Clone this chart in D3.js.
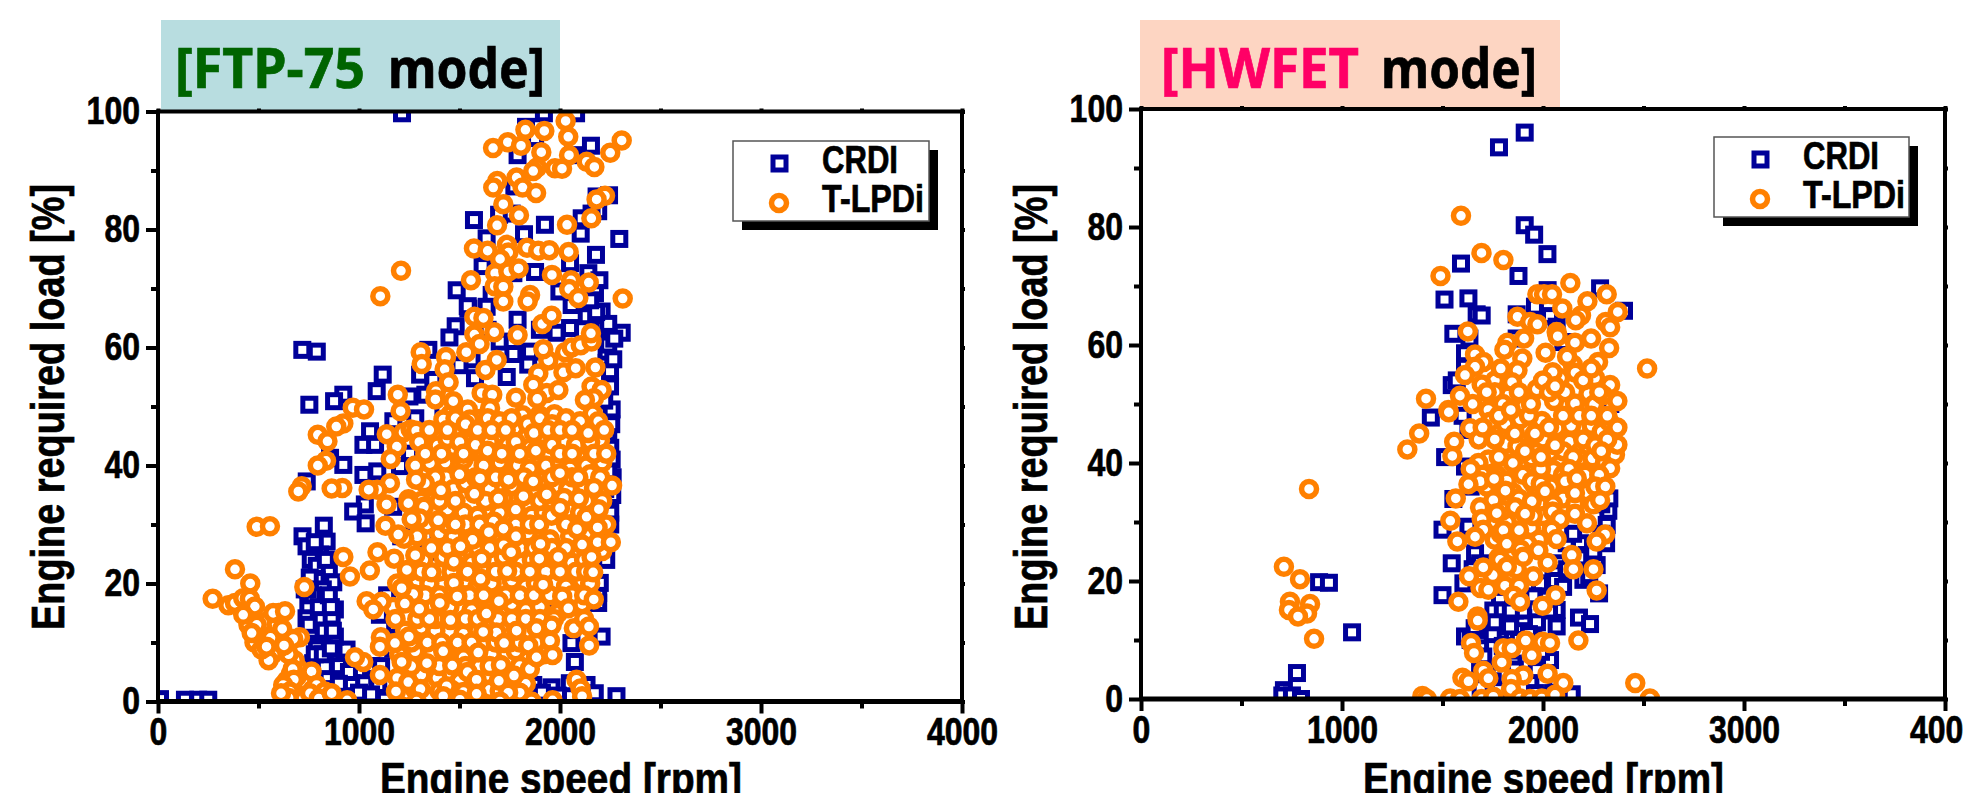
<!DOCTYPE html>
<html>
<head>
<meta charset="utf-8">
<script src="https://cdn.jsdelivr.net/npm/d3@7"></script>
<style>
    html, body { margin: 0; padding: 0; background: #fff; overflow: hidden; }
    text { font-family: "Liberation Sans", Arial, sans-serif; font-weight: bold; fill: #000; stroke: #000; stroke-width: 0.7px; }
</style>
</head>
<body>
<div id="chart"></div>
<script>
const x_ticks = [0, 1000, 2000, 3000, 4000];
const x_minor = [500, 1500, 2500, 3500];
const y_ticks = [0, 20, 40, 60, 80, 100];
const y_minor = [10, 30, 50, 70, 90];
const legend_labels = ['CRDI', 'T-LPDi'];

// [rpm, load %]
const ftp_crdi = [
    [10,0.4],[134,0.3],[200,0.3],[250,0.3],[1214,99.7],[1920,99.7],[2080,99.7],[1831,97.4],[1876,95.5],[2154,94.2],[1789,92.6],[2066,92.6],
    [1572,81.6],[1925,80.8],[2190,83.1],[2244,85.8],[2182,85.6],[1773,87.3],[1697,82.5],[1760,82.7],[2108,81.9],[2157,82.7],[1821,79.2],[1635,78.5],
    [2103,79.3],[2295,78.4],[2179,75.7],[1615,73.8],[1876,72.8],[2050,74.3],[1768,72.6],[2141,72.6],[2196,71.4],[1486,69.7],[1544,66.6],[1997,69.5],
    [2174,69.2],[1660,68.9],[1635,66.9],[2058,67.2],[1541,67],[1481,63.6],[1450,61.7],[1789,64.7],[2207,66.1],[2307,62.5],[2050,63.3],[2215,63.3],
    [2133,65.3],[1983,62.5],[718,59.6],[790,59.3],[1345,59.6],[1118,55.4],[1088,52.6],[922,52],[876,50.9],[753,50.3],[1304,55.4],[1768,58.9],[1851,59.3],
    [1842,57.1],[1735,55],[1577,54.8],[1370,54.5],[1251,51.7],[1171,47.5],[1055,45.8],[1022,43.5],[1080,43.5],[1254,42],[922,40.1],[856,41.3],[1022,38.4],
    [1091,39],[1204,39.9],[740,37.3],[2232,57.4],[2249,56],[2249,53.4],[2257,49.5],[2240,45.5],[2232,59.3],[2257,41],[2262,38],[2240,60.5],[2270,61.5],
    [1029,33.4],[971,32.2],[1033,30.2],[825,29.8],[839,27.1],[719,28],[739,26.3],[806,24.9],[850,22.4],[789,20.6],[872,20.2],[825,17.4],[748,16.1],
    [880,15.6],[739,14.1],[809,14.1],[864,14.4],[772,11.3],[839,10.5],[938,8.8],[864,7.1],[772,6.5],[963,3.1],[1026,3.1],[1096,2.8],[844,4.3],[1331,28],
    [1344,25.4],[1104,14.7],[1925,15.8],[2057,9.9],[2207,11],[2074,6.7],[1958,2.4],[1867,2.8],[2132,2.8],[2049,3.1],[2173,1.4],[2281,0.9],[2190,18.4],
    [2223,29.7],[2198,20.1],[1129,0.3],[2215,27.4],[2190,16.7],[760,24],[790,23],[820,19],[770,18],[800,16],[850,18],[845,12],[760,12],[730,19],[790,9],
    [880,11],[900,6],[950,5],[830,6],[1000,1.5],[1060,1.2],[1910,1.5],[1990,1],[1180,13],[1170,9],[1210,28],[1170,33],[2230,24],[2250,32],[2260,35],[2230,47],[2250,43],
    // column near 800 rpm and the right edge
    [755,21],[835,24],[780,27],[745,19],[860,16],[750,13],[825,12],[870,12],[780,8],[820,8],[860,9],[760,4],[900,3],[1060,6],[1110,6],[1140,18],
    [2225,36],[2240,39],[2250,30],[2255,47],[2220,51],[2265,58],[2240,64],[2180,66],[2150,68],[1900,63],[1700,61],[1640,63],[1560,58],[1500,57],[1420,50],[1330,52],[1280,48]
];

const ftp_tlpdi = [
    [1209,73],[1106,68.7],[1667,93.8],[1740,94.8],[1806,94.2],[1828,96.9],[1922,96.7],[2028,98.4],[2041,95.7],[2307,95.1],[2250,93],[1907,93.1],[2045,92.6],
    [2133,91.5],[2171,90.6],[1975,90.4],[2010,90.3],[1886,90.5],[1867,89.9],[1784,88.8],[1688,88.2],[1668,87.1],[1814,87.1],[1881,86.2],[2224,85.7],[2182,85.1],
    [1718,84.3],[1796,82.4],[2156,81.9],[1687,80.7],[2035,80.8],[1572,76.8],[1640,76.4],[1736,77.4],[1743,76.1],[1836,76.9],[1892,76.4],[1947,76.5],[2043,76.2],
    [1702,75],[1677,72.6],[1743,72.9],[1794,73.4],[1960,72.3],[2055,71.4],[2143,71],[1557,71.4],[1675,70.4],[1718,70.3],[2046,69.9],[1851,68.9],[2091,68.4],
    [2312,68.3],[1718,67.8],[1839,67.8],[1574,65.2],[1619,65],[1673,62.6],[1574,62.2],[1600,60.6],[1534,59.2],[1789,62.1],[1912,64],[1958,65.4],[1685,57.9],
    [1629,56.2],[1307,59.2],[1312,57.2],[1433,58.4],[1426,56.3],[1446,54.1],[1383,52.6],[1380,51.2],[1193,52],[1207,49.2],[969,49.8],[1025,49.5],[922,47.1],
    [887,46.6],[795,45.2],[843,44.1],[836,40.8],[795,40],[1138,45.3],[1188,43.2],[1158,41.1],[1221,45.6],[1257,46.1],[1284,45.9],[1455,48.7],[1469,50.9],
    [1541,49.5],[1600,47.9],[1610,52.3],[1663,52],[1652,49.7],[1552,47.8],[1420,47.8],[1503,45.5],[1549,44],[1693,45.2],[1391,43.4],[1469,43],[1353,40.4],
    [1468,40.2],[1612,42.4],[1668,41.1],[1566,39.9],[1751,40],[1942,57.8],[1917,59.7],[2025,59.2],[2058,60],[2103,60.4],[2157,61],[2154,62.4],[1892,55.6],
    [2017,55.8],[2078,56.5],[2176,56.6],[1867,53.7],[1934,52.3],[1992,52.8],[1781,51.5],[1887,51.3],[1814,48.5],[1897,48.5],[1972,48.7],[2157,53.4],[2207,52.8],
    [2169,51.4],[2124,51.1],[2163,48.8],[2083,46.4],[1912,45.2],[1836,45],[1975,44.4],[2199,44.3],[2124,43.6],[2091,41.5],[1942,41.5],[1834,41.8],[2169,40.2],
    // dense block, row by row
    [1480,48],[1530,47],[1640,48],[1700,47.5],[1760,48],[1840,47],[1900,48],[1960,47],[2030,48],[2100,47.5],[2190,47.5],
    [1300,44],[1440,44.5],[1500,44],[1580,43.5],[1650,44],[1740,43.5],[1780,44],[1850,43],[1960,43.5],[2030,44],[2080,43.5],[2150,44],
    [1280,40],[1430,40.5],[1520,41],[1620,40],[1700,40.5],[1790,40],[1850,39.5],[1930,40],[2000,40.5],[2050,39.5],[2130,40],[2210,40.5],
    [1340,36.5],[1470,36],[1530,37],[1650,36],[1760,36.5],[1870,35.5],[1980,36.5],[2040,36],[2120,36.5],[1370,32],[1440,32.5],[1520,32],[1590,31.5],[1700,32],
    [1780,32.5],[1860,31.5],[1920,32],[2040,32.5],[2100,32],[2160,31.5],[1290,28],[1400,28.5],[1470,28],[1540,27.5],[1610,28],[1700,28],[1840,28.5],[1950,27.5],
    [2050,28],[2140,28.5],[1320,24],[1420,24.5],[1500,24],[1560,23.5],[1670,24],[1720,24.5],[1810,23.5],[1860,24],[1980,24.5],[2060,23.5],[2120,24],
    [1190,20],[1290,20.5],[1350,20],[1530,20.5],[1590,19.5],[1660,20],[1760,20.5],[1830,19.5],[1880,20],[2030,19.5],[2110,20.5],[2150,20],
    [1170,16],[1350,16.5],[1450,16],[1560,15.5],[1650,16],[1760,16.5],[1830,15.5],[1900,16],[1990,15],[2110,16.5],[1230,12],[1310,12.5],[1380,12],[1520,11.5],
    [1590,12],[1780,12.5],[1840,11.5],[1900,12],[1200,8],[1280,8.5],[1360,8],[1440,8.5],[1520,7.5],[1660,8],[1780,8.5],[1880,7.5],[1920,8],
    [1190,4],[1310,4.5],[1390,4],[1500,3.5],[1640,4.5],[1720,3.5],[1830,3],[1220,0.8],[1350,0.5],[1600,0.8],[1770,0.5],[1380,14],[1500,18],[1620,10],[1700,6],
    // second pass through the dense block
    [1350,46],[1440,46],[1590,46],[1660,46],[1730,46],[1870,45.5],[1940,46],[2000,46],[2060,46],[2140,45.5],[2220,46],
    [1330,42],[1410,42],[1520,42],[1640,42.5],[1710,42],[1800,42],[1880,42.5],[2000,42],[2060,42],[2170,42],[2230,42],
    [1380,38],[1500,38.5],[1580,38],[1680,38],[1740,38],[1820,38],[1900,37.5],[1960,38],[2060,38],[2150,38.5],[2200,38],
    [1310,34],[1400,34],[1480,34],[1630,34],[1720,34.5],[1900,34],[1960,34],[2020,34.5],[2130,34],[2210,34],
    [1340,30],[1440,30],[1530,30],[1600,30],[1670,30.5],[1780,30],[1850,30],[2030,30],[2100,30],[2230,30],
    [1360,26],[1440,26],[1590,26],[1650,26],[1720,26.5],[1800,26],[1870,26],[1960,26],[2030,26],[2210,25.5],
    [1250,22],[1310,22],[1400,22],[1460,22],[1540,22],[1620,22],[1680,22],[1780,22],[1850,22],[1930,22],[2000,22],[2080,22],[2130,22],
    [1240,18],[1330,18],[1400,18],[1550,18],[1620,18],[1730,18],[1800,18],[1870,18],[1950,18],[2060,18],[2120,18],
    [1290,14],[1350,14],[1530,14],[1590,14],[1690,14],[1760,14],[1830,14],[1900,14],[1970,14],
    [1260,10],[1340,10],[1410,10],[1490,10],[1560,10],[1680,10],[1750,10],[1800,10],[1880,10],
    [1260,6],[1400,6],[1530,6],[1600,6],[1650,6],[1800,6],[1850,5.5],[1240,1.5],[1280,2],[1400,1.8],[1460,2],[1520,1.6],[1650,2],[1700,1.8],[1800,1.5],[1540,5],
    // low speed cluster
    [640,3.5],[660,2.5],[680,1.5],[700,2.8],[720,1.8],[740,3],[770,2],[810,1],[690,4.2],[650,1],[630,0.8],[700,0.8],[760,0.6],[840,0.5],[870,0.4],[660,4.6],[700,5.5],
    [680,7],[650,8],[600,9],[570,8],[520,11],[510,13],[480,10],[450,13],[540,13.5],[590,13],[600,15],[550,7],
    // traced
    [1154,37],[1091,35.9],[1048,35.9],[917,36.2],[864,36.1],[715,36.5],[698,35.6],[1408,35.8],[2259,36.6],[2169,36.2],[1934,35.1],[1818,34.8],[1693,34.4],[1574,35.2],
    [2094,34.4],[1246,34.3],[2000,38.7],[2091,38],[1867,37.3],[1743,37.6],[1602,37.8],[1328,37],[1284,37.6],[491,29.6],[557,29.7],[383,22.4],[459,20],[272,17.4],
    [350,16.3],[383,16.7],[424,17.5],[457,17.4],[482,16.1],[424,14.7],[573,15],[632,15.3],[491,13],[618,12.3],[466,11.6],[560,10.8],[706,10.9],[673,10.6],[627,9.5],
    [515,8.8],[540,9.3],[670,5.5],[764,5.1],[676,3.7],[631,2],[623,2.8],[656,1.7],[723,0.4],[789,2.8],[830,1.7],[756,1.4],[650,0.6],[800,0.5],[864,1.4],[612,1.4],
    [728,19.4],[922,24.5],[955,21.2],[1054,22.2],[1132,29.8],[1225,27.6],[1195,28.3],[1092,25.3],[1175,24.2],[1280,24.8],[1238,22.3],[1361,21.9],[1137,33.4],
    [1245,33.6],[1323,33],[1394,30.7],[1303,31],[1262,30.9],[1480,30],[1565,27.4],[1505,26.3],[1646,28.7],[1719,29.3],[1781,28],[1903,26.7],[1897,30],[1958,31.5],
    [2000,32.8],[2132,31.3],[2193,32.6],[2187,29.5],[2085,29.2],[2110,26.6],[2187,27],[2253,27],[2157,24.5],[1991,24.5],[1897,24.2],[1757,25.3],[1610,24.2],
    [1472,23.7],[1737,22.1],[1605,20.8],[2165,21.9],[1916,19.8],[2011,17.8],[2168,17.3],[2041,15.8],[1696,17],[1472,20.1],[1489,17.8],[1402,16.7],[1270,18.2],
    [1212,19.2],[1112,16.9],[1038,17],[1071,15.6],[1300,15.7],[1228,16.6],[1182,14],[1634,14.9],[1455,13.8],[1883,12.4],[1784,12],[1684,11.7],[1618,11.8],[1958,12.9],
    [2069,12.4],[2120,14],[2144,12.7],[2145,9.5],[1950,10.3],[1842,9.5],[1722,9.9],[1593,8.3],[1419,8.5],[1248,11],[1179,9.9],[1109,10.9],[1104,9.3],[1021,6.7],
    [980,7.5],[1104,4.5],[1212,6.7],[1338,6.5],[1464,6.1],[1706,6.2],[1883,7.5],[1963,7.9],[1771,4.4],[1696,3.5],[1585,3.7],[1436,2.6],[1245,3.3],[1184,1.7],[1306,2.1],
    [1585,1.3],[1742,1.5],[1858,0],[1701,0],[1286,0],[941,0.2],[1963,0.2],[2082,3.7],[2102,2.2],[2110,0.9],[1502,0.3],[1419,0.9]
];

const hw_crdi = [
    [711,1.5],[776,4.4],[886,19.8],[935,19.7],[1050,11.3],[703,0.6],[751,0.6],[796,0],[1781,93.5],[1909,96],[1909,80.3],[1956,78.7],[2022,75.4],[1592,73.8],[1878,71.7],
    [1510,67.7],[1629,67.9],[1670,65.2],[1695,65],[1554,61.9],[1634,61.1],[2023,69.3],[2284,69.6],[2403,65.8],[1869,65.2],[1960,66.5],[2035,64.9],[1869,61.1],[1612,58.6],
    [1612,56.3],[1546,53.2],[1571,54],[2068,63.1],[2101,60.5],[1442,47.7],[1629,45.6],[1513,41],[1612,39.4],[1554,33.9],[2325,31.9],[2317,29.5],[1500,28.7],[1629,29.2],
    [2314,26.4],[1546,23],[1662,24.7],[1687,23],[2267,22.7],[2201,20.2],[1604,19.6],[1500,17.6],[2279,17.9],[1786,16.8],[2068,15.1],[2179,13.8],[2234,12.7],[2068,12.3],
    [1902,13.7],[1786,11.4],[1612,10.6],[1728,11.7],[2035,6.6],[1952,10],[1853,6],[1687,5.5],[2002,2.7],[2143,0.8],[1786,14.5],[1820,13.4],[1753,15],[1836,12.3],
    [1687,8.6],[1703,7.2],[1969,4.9],[1860,5],[2118,26.4],[2184,26.4],[2217,24.4],[2076,23],[2052,21.3],[1985,19.6],[1952,17.4],[2290,33],[2330,34],[2340,46],[2335,50],
    [1640,36],[1600,48],[1650,22],[1700,20],[1860,15],[1900,15],[1750,11],[1800,9],[1880,10],[1990,8],[2030,15],[2060,20],[2120,22],
    [2150,28],[2180,24],[2250,25],[2290,28],[2230,21],[2100,19],[2020,17],[1970,13],[1930,11],[1800,15],[1840,15],[1760,13],[1660,12],[1640,10],[1720,5],[1750,3],[1690,2],[1780,1.5],[2050,1],[1960,1]
];

const hw_tlpdi = [
    [836,35.6],[711,22.4],[791,20.3],[741,16.5],[841,16.1],[736,15.1],[826,14.5],[781,14],[861,10.2],[1592,81.9],[1694,75.6],[1803,74.4],[1490,71.7],[2136,70.5],[1972,68.6],
    [2005,68.6],[2045,68.6],[2317,68.6],[2221,67.4],[2096,66.2],[2189,65],[2163,64.2],[2372,65.6],[2312,63.9],[2334,63],[1873,64.8],[1936,63.9],[1972,63.5],[1626,62.3],
    [2068,62.2],[2073,61.5],[1906,61.1],[1823,60.4],[1808,59.2],[2159,60.4],[2239,61.1],[2329,59.5],[2518,56],[1662,58.4],[1704,57.1],[1662,56.3],[1612,54.9],[1897,57.7],
    [2013,58.7],[2274,57.1],[2148,56.7],[1873,55.7],[1761,54],[1695,53.3],[1587,51.4],[1846,53.7],[1969,52.5],[2085,54.4],[2161,55.3],[2259,54.4],[2334,53.2],[1825,51.4],
    [1418,50.9],[1529,49],[2226,51.7],[2055,50.5],[2159,50.1],[2254,49.9],[2370,50.5],[1906,49.6],[1728,49],[2048,55.4],[2300,51.5],[1531,48.6],[1384,45],[1325,42.3],
    [1558,43.6],[1549,41.2],[1637,45.9],[1737,47],[1813,46.6],[1886,47.4],[1994,47.1],[2068,45.9],[2140,46.3],[2242,46.3],[2292,45.3],[1952,44.3],[1811,43.2],[2131,43.6],
    [1873,42.8],[1728,40.6],[1679,40],[1944,40.8],[2035,41.7],[2184,40.8],[2246,40.8],[2309,40.1],[2358,41.4],[2334,39.1],[2370,43.1],[1813,39.2],[2052,38.8],
    // fill of the cluster
    [1680,44],[1760,44],[1860,45],[1930,48],[2000,44],[2100,42],[2200,44],[2260,43],[2320,44],[2330,47],[1700,38],[1780,41],[1900,38],[1990,39],[2100,38],[2210,38],[2280,38],
    [1780,35],[1850,35],[1980,33],[2100,34],[2220,35],[1720,32],[1820,30],[1880,34],[2000,31],[1760,27],[1850,25],[1940,29],[1780,24],
    [1760,52],[1800,50],[1880,52],[1940,50],[2000,54],[2030,52],[2110,52],[2200,54],[2280,52],[2240,56],[2120,58],[2060,53],[1790,56],[1720,52],[1650,50],[1700,46],[1780,48],
    [1840,49],[1960,45],[2030,46],[2100,48],[2180,48],[2240,48],[2320,48],[2370,46],[2290,42],[2150,41],[2060,43],[1990,41],[1910,42],[1850,40],[1770,38],[1640,39],[1720,36],
    [1820,37],[1960,36],[2040,36],[2130,39],[2260,36],[2310,36],[2160,33],[2250,33],[2050,33],[1950,31],[1800,32],[1740,30],[1790,28],[1860,28],[1980,27],[1830,21],[1870,22],[1750,21],
    // traced
    [1687,36.9],[1629,36.4],[1757,37.3],[1944,36.9],[1989,36.5],[2110,36.9],[2168,37.4],[1813,35.3],[2010,35.2],[2159,34.9],[1566,34],[1753,33.7],[1687,32.5],[2284,33.7],
    [1944,33.5],[2048,31.8],[1861,32.5],[1770,31.5],[1911,31.4],[2085,30.5],[2159,31.4],[1695,30.5],[1539,30.2],[2219,29.8],[1803,28.6],[1881,28.6],[1703,28.7],[2043,28.7],
    [2309,27.9],[2267,26.7],[1574,26.7],[1662,27.5],[2068,27.1],[1820,26.3],[1922,26.3],[1977,25.2],[1889,25.3],[2143,24.4],[2023,23.1],[1786,23.6],[1902,24.1],[1820,22.4],
    [1703,22.3],[2151,22],[2251,22],[1952,20.8],[1632,20.8],[1811,19.2],[1881,19.2],[1689,18.8],[1728,18.5],[2267,18.4],[2063,17.6],[1853,17.5],[1886,16.5],[1579,16.5],
    [1998,15.8],[1674,14],[1675,13.3],[2176,9.9],[1997,9.7],[2035,9.5],[1914,9.9],[1642,9.5],[1657,7.8],[1803,8.6],[1844,8.6],[1944,7.4],[1795,6.2],[1703,4.8],[2023,4.3],
    [1902,4],[1599,3.6],[1629,3],[1728,3.5],[1844,3.4],[2101,2.7],[2459,2.7],[1841,1.7],[2532,0.1],[1400,0.5],[1422,0],[1538,0.1],[1587,0],[1695,0],[1753,0.4],[1886,0.1],
    [1936,0],[1994,0.1],[2060,0.7]
];
//--------------------------------------------------------------------
const svg = d3.select('#chart')
    .append('svg')
    .attr('width', 1963)
    .attr('height', 793);

const panels = [{
    id: 'ftp', left: 158, right: 962, top: 111.5, bottom: 701.5,
    crdi: ftp_crdi, tlpdi: ftp_tlpdi,
    box: [161, 20, 399, 91], box_color: '#b8dde0',
    head: '[FTP-75', head_color: '#006400', head_x: [175, 365], mode_x: [388, 545], head_y: 88,
    legend: [733, 141, 196, 80], title_x: 64, x_title: [380, 742]
}, {
    id: 'hw', left: 1141, right: 1945, top: 109, bottom: 699,
    crdi: hw_crdi, tlpdi: hw_tlpdi,
    box: [1140, 20, 420, 88], box_color: '#fdd5c2',
    head: '[HWFET', head_color: '#ff0066', head_x: [1161, 1359], mode_x: [1381, 1537], head_y: 88,
    legend: [1714, 137, 195, 80], title_x: 1047, x_title: [1363, 1724]
}];

panels.forEach(draw_panel);

function draw_panel(p) {
    const x_scale = d3.scaleLinear().domain([0, 4000]).range([p.left, p.right]);
    const y_scale = d3.scaleLinear().domain([0, 100]).range([p.bottom, p.top]);
    const g = svg.append('g');

    // mode header
    g.append('rect')
        .attr('x', p.box[0]).attr('y', p.box[1])
        .attr('width', p.box[2]).attr('height', p.box[3])
        .attr('fill', p.box_color);

    [[p.head, p.head_color, p.head_x], ['mode]', '#000', p.mode_x]].forEach(h => {
        g.append('text')
            .text(h[0])
            .attr('x', h[2][0])
            .attr('y', p.head_y)
            .attr('textLength', h[2][1] - h[2][0])
            .attr('lengthAdjust', 'spacingAndGlyphs')
            .style('font-family', '"Noto Sans", sans-serif')
            .style('font-size', '55px')
            .style('fill', h[1])
            .style('stroke', h[1]);
    });

    // points
    svg.append('clipPath')
        .attr('id', 'clip-' + p.id)
        .append('rect')
        .attr('x', p.left).attr('y', p.top)
        .attr('width', p.right - p.left).attr('height', p.bottom - p.top);

    const marks = g.append('g').attr('clip-path', 'url(#clip-' + p.id + ')');

    marks.selectAll('rect')
        .data(p.crdi)
        .enter()
        .append('rect')
        .attr('x', d => x_scale(d[0]) - 6.5)
        .attr('y', d => y_scale(d[1]) - 6.5)
        .attr('width', 13)
        .attr('height', 13)
        .attr('fill', '#fff')
        .attr('stroke', '#000099')
        .attr('stroke-width', 5);

    marks.selectAll('circle')
        .data(p.tlpdi)
        .enter()
        .append('circle')
        .attr('cx', d => x_scale(d[0]))
        .attr('cy', d => y_scale(d[1]))
        .attr('r', 7.5)
        .attr('fill', '#fff')
        .attr('stroke', '#ff8000')
        .attr('stroke-width', 5.5);

    // frame
    g.append('rect')
        .attr('x', p.left).attr('y', p.top)
        .attr('width', p.right - p.left).attr('height', p.bottom - p.top)
        .attr('fill', 'none')
        .attr('stroke', '#000')
        .attr('stroke-width', 4);

    g.append('line')
        .attr('x1', p.left).attr('x2', p.right)
        .attr('y1', p.bottom).attr('y2', p.bottom)
        .attr('stroke', '#000')
        .attr('stroke-width', 5);

    // axes
    const x_axis = d3.axisBottom(x_scale).tickValues(x_ticks).tickSize(12).tickPadding(5).tickFormat(d3.format('d'));
    const y_axis = d3.axisLeft(y_scale).tickValues(y_ticks).tickSize(12).tickPadding(6).tickFormat(d3.format('d'));
    const x_small = d3.axisBottom(x_scale).tickValues(x_minor).tickSize(7).tickFormat('');
    const y_small = d3.axisLeft(y_scale).tickValues(y_minor).tickSize(7).tickFormat('');
    const x_top = d3.axisTop(x_scale).tickValues(x_ticks.concat(x_minor)).tickSize(3).tickFormat('');
    const y_right = d3.axisRight(y_scale).tickValues(y_ticks.concat(y_minor)).tickSize(3).tickFormat('');

    const groups = [
        [x_axis, 0, p.bottom], [x_small, 0, p.bottom], [y_axis, p.left, 0], [y_small, p.left, 0],
        [x_top, 0, p.top], [y_right, p.right, 0]
    ];
    groups.forEach(a => {
        const ax = g.append('g')
            .attr('transform', 'translate(' + a[1] + ',' + a[2] + ')')
            .call(a[0]);
        ax.select('.domain').remove();
        ax.selectAll('line').attr('stroke', '#000').attr('stroke-width', 4);
        ax.selectAll('text')
            .attr('textLength', d => String(d).length * 17.8)
            .attr('lengthAdjust', 'spacingAndGlyphs')
            .style('font-size', '38px')
            .style('fill', '#000');
    });

    // axis titles
    g.append('text')
        .text('Engine speed [rpm]')
        .attr('x', p.x_title[0])
        .attr('y', 794)
        .attr('textLength', p.x_title[1] - p.x_title[0])
        .attr('lengthAdjust', 'spacingAndGlyphs')
        .style('font-size', '45px');

    g.append('text')
        .text('Engine required load [%]')
        .attr('transform', 'translate(' + p.title_x + ',' + 630 + ') rotate(-90)')
        .attr('textLength', 446)
        .attr('lengthAdjust', 'spacingAndGlyphs')
        .style('font-size', '46px');

    // legend
    const [lx, ly, lw, lh] = p.legend;
    g.append('rect')
        .attr('x', lx + 9).attr('y', ly + 9)
        .attr('width', lw).attr('height', lh)
        .attr('fill', '#000');
    g.append('rect')
        .attr('x', lx).attr('y', ly)
        .attr('width', lw).attr('height', lh)
        .attr('fill', '#fff')
        .attr('stroke', '#555')
        .attr('stroke-width', 1.5);

    g.append('rect')
        .attr('x', lx + 40).attr('y', ly + 16)
        .attr('width', 13).attr('height', 13)
        .attr('fill', '#fff')
        .attr('stroke', '#000099')
        .attr('stroke-width', 5);
    g.append('circle')
        .attr('cx', lx + 46).attr('cy', ly + 62)
        .attr('r', 7.5)
        .attr('fill', '#fff')
        .attr('stroke', '#ff8000')
        .attr('stroke-width', 5.5);

    legend_labels.forEach((label, i) => {
        g.append('text')
            .text(label)
            .attr('x', lx + 89)
            .attr('y', ly + 32 + i * 39)
            .attr('textLength', i === 0 ? 76 : 102)
            .attr('lengthAdjust', 'spacingAndGlyphs')
            .style('font-size', '38px');
    });
}
</script>
</body>
</html>
